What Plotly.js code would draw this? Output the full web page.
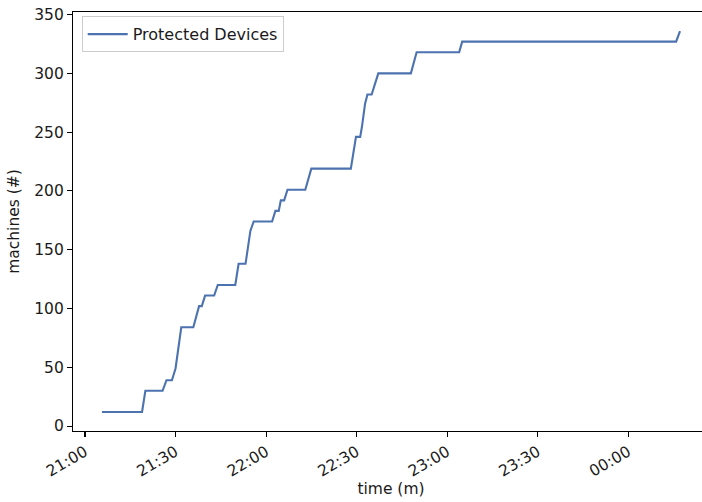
<!DOCTYPE html>
<html>
<head>
<meta charset="utf-8">
<script src="https://cdn.plot.ly/plotly-3.0.1.min.js"></script>
<style>
html,body{margin:0;padding:0;overflow:hidden;background:#fff;}
#chart{width:720px;height:502px;}
</style>
</head>
<body>
<div id="chart"></div>
<script>
const times = [
  '2024-01-01 21:05:36','2024-01-01 21:18:54','2024-01-01 21:20:00','2024-01-01 21:25:42',
  '2024-01-01 21:27:00','2024-01-01 21:28:48','2024-01-01 21:30:00','2024-01-01 21:31:54',
  '2024-01-01 21:35:54','2024-01-01 21:37:48','2024-01-01 21:38:42','2024-01-01 21:39:48',
  '2024-01-01 21:42:48','2024-01-01 21:44:00','2024-01-01 21:49:48','2024-01-01 21:50:54',
  '2024-01-01 21:53:12','2024-01-01 21:53:54','2024-01-01 21:54:48','2024-01-01 21:55:54',
  '2024-01-01 22:02:00','2024-01-01 22:03:06','2024-01-01 22:04:12','2024-01-01 22:04:54',
  '2024-01-01 22:06:00','2024-01-01 22:07:06','2024-01-01 22:13:00','2024-01-01 22:15:00',
  '2024-01-01 22:28:06','2024-01-01 22:29:48','2024-01-01 22:31:12','2024-01-01 22:31:48',
  '2024-01-01 22:32:48','2024-01-01 22:33:36','2024-01-01 22:35:00','2024-01-01 22:37:12',
  '2024-01-01 22:48:00','2024-01-01 22:49:54','2024-01-01 23:04:00','2024-01-01 23:05:00',
  '2024-01-02 00:15:54','2024-01-02 00:17:12'
];
const devices = [
  12,12,30,30,
  39,39,49,84,
  84,102,102,111,
  111,120,120,138,
  138,151,166,174,
  174,183,183,192,
  192,201,201,219,
  219,246,246,255,
  274,282,282,300,
  300,318,318,327,
  327,336
];
const seriesName = 'Protected Devices';
const xTitle = 'time (m)';
const yTitle = 'machines (#)';
const yTicks = [0,50,100,150,200,250,300,350];

const font = {family:'DejaVu Sans, sans-serif', size:15.5, color:'#1a1a1a'};

const trace = {
  x: times, y: devices, type:'scatter', mode:'lines', name: seriesName,
  line:{color:'#4c72b0', width:2.1}
};

const layout = {
  width:720, height:502,
  margin:{l:73, r:11, t:12, b:71, pad:0},
  paper_bgcolor:'#fff', plot_bgcolor:'#fff',
  font: font,
  showlegend:true,
  legend:{x:0.0137, y:0.99, xanchor:'left', yanchor:'top', itemwidth:40,
    bgcolor:'rgba(255,255,255,0.8)', bordercolor:'#cccccc', borderwidth:1,
    font:{family:'DejaVu Sans, sans-serif', size:16, color:'#1a1a1a'}},
  xaxis:{
    type:'date',
    range:['2024-01-01 20:56:01','2024-01-02 00:26:48'],
    tick0:'2024-01-01 21:00:00', dtick:30*60*1000,
    tickformat:'%H:%M', tickangle:-30,
    showgrid:false, zeroline:false,
    showline:true, linecolor:'#000', linewidth:1.1, mirror:true,
    ticks:'outside', ticklen:5, tickwidth:1.1, tickcolor:'#000',
    tickfont:font,
    title:{text:xTitle, font:font, standoff:2}
  },
  yaxis:{
    range:[-4.2, 352.2],
    tickvals:yTicks,
    showgrid:false, zeroline:false,
    showline:true, linecolor:'#000', linewidth:1.1, mirror:true,
    ticks:'outside', ticklen:5, tickwidth:1.1, tickcolor:'#000',
    tickfont:font,
    title:{text:yTitle, font:font, standoff:10}
  }
};

Plotly.newPlot('chart', [trace], layout, {displayModeBar:false, staticPlot:true});
</script>
</body>
</html>
